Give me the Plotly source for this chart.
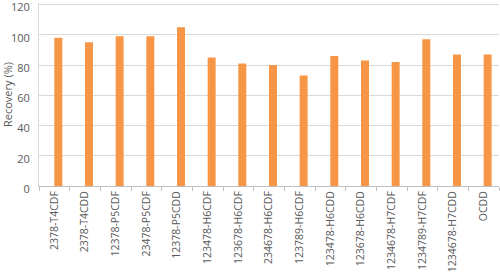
import plotly.graph_objects as go

categories = ["2378-T4CDF", "2378-T4CDD", "12378-P5CDF", "23478-P5CDF", "12378-P5CDD",
              "123478-H6CDF", "123678-H6CDF", "234678-H6CDF", "123789-H6CDF",
              "123478-H6CDD", "123678-H6CDD", "1234678-H7CDF", "1234789-H7CDF",
              "1234678-H7CDD", "OCDD"]
recovery = [98, 95, 99, 99, 105, 85, 81, 80, 73, 86, 83, 82, 97, 87, 87]
y_ticks = [0, 20, 40, 60, 80, 100, 120]

fig = go.Figure(go.Bar(
    x=categories, y=recovery,
    marker=dict(color="#F79646", line=dict(width=0)),
    width=0.26, offset=0.0,
))

font = dict(family="Open Sans", size=10.5, color="#595959")
fig.update_layout(
    width=500, height=276,
    margin=dict(l=39, r=1, t=3, b=90),
    paper_bgcolor="white", plot_bgcolor="white",
    showlegend=False,
    font=font,
    xaxis=dict(
        type="category", tickangle=-90, tickfont=font, automargin=False,
        showline=True, linecolor="#BFBFBF", linewidth=1,
        ticks="outside", tickson="boundaries", ticklen=4, tickcolor="#BFBFBF",
        showgrid=False, range=[-0.5, 14.5],
    ),
    yaxis=dict(
        range=[0, 121], tickvals=y_ticks, tickfont=dict(family="Open Sans", size=11, color="#595959"),
        automargin=False, ticklabeloverflow="allow", ticklabelshift=3,
        showgrid=True, gridcolor="#D9D9D9", gridwidth=1,
        showline=True, linecolor="#D9D9D9", linewidth=1,
        zeroline=False, ticks="", ticklabelstandoff=6,
        title=dict(text="Recovery (%)", font=dict(family="Open Sans", size=11, color="#595959")),
    ),
)

fig.write_html("out.html")
